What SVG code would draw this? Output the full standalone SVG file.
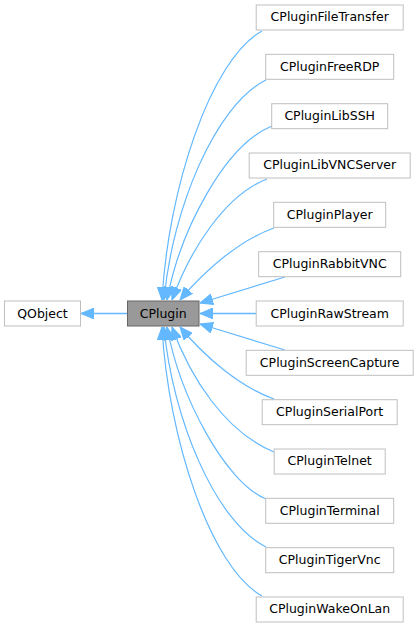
<svg xmlns="http://www.w3.org/2000/svg" width="419" height="628" viewBox="0 0 419 628">
<style>
.n rect{fill:#ffffff;stroke:#bfbfbf;stroke-width:1}
.cur rect{fill:#999999;stroke:#666666;stroke-width:1}
text{font-family:"DejaVu Sans",sans-serif;font-size:12.5px;fill:#000000;text-anchor:middle}
.e path{fill:none;stroke:#63b8ff;stroke-width:1.2;marker-end:url(#ah)}
.e path.h{stroke-width:1.6}
</style>
<defs>
<marker id="ah" markerUnits="userSpaceOnUse" markerWidth="13" markerHeight="11" refX="13" refY="5.5" orient="auto" viewBox="0 0 13 11">
<path d="M0,0 L13,5.5 L0,11 z" fill="#63b8ff" stroke="#63b8ff" stroke-width="1"/>
</marker>
</defs>
<g id="edges" class="e">
<path class="h" d="M127,313.5 L81,313.5"/>
<path d="M262,31 C210,60 168,190 162,300"/>
<path d="M266,80 C215,105 172,210 164,300"/>
<path d="M272,126 C225,145 180,230 167,300"/>
<path d="M267,179 C225,195 190,250 172,300"/>
<path d="M274,228 C240,240 205,270 180,300"/>
<path d="M285,277 L200,303"/>
<path class="h" d="M256,313.5 L200,313.5"/>
<path d="M285,350 L200,324"/>
<path d="M274,399 C240,387 205,357 180,327"/>
<path d="M274,452 C225,432 190,377 172,327"/>
<path d="M266,499 C225,482 180,397 167,327"/>
<path d="M266,547 C215,522 172,417 164,327"/>
<path d="M262,596 C210,567 168,437 162,327"/>
</g>
<g id="QObject" class="n"><rect x="4.5" y="301" width="76" height="25"/><text x="42.5" y="317.5">QObject</text></g>
<g id="CPlugin" class="cur"><rect x="127.5" y="301" width="71.5" height="25"/><text x="163.2" y="317.5">CPlugin</text></g>
<g id="CPluginFileTransfer" class="n"><rect x="256.2" y="5" width="147" height="25"/><text x="329.7" y="21.3">CPluginFileTransfer</text></g>
<g id="CPluginFreeRDP" class="n"><rect x="265.7" y="54.3" width="128" height="25"/><text x="329.7" y="70.6">CPluginFreeRDP</text></g>
<g id="CPluginLibSSH" class="n"><rect x="271.7" y="103.7" width="116" height="25"/><text x="329.7" y="120">CPluginLibSSH</text></g>
<g id="CPluginLibVNCServer" class="n"><rect x="249.2" y="153" width="161" height="25"/><text x="329.7" y="169.3">CPluginLibVNCServer</text></g>
<g id="CPluginPlayer" class="n"><rect x="273.7" y="202.3" width="112" height="25"/><text x="329.7" y="218.6">CPluginPlayer</text></g>
<g id="CPluginRabbitVNC" class="n"><rect x="258.7" y="251.7" width="142" height="25"/><text x="329.7" y="268">CPluginRabbitVNC</text></g>
<g id="CPluginRawStream" class="n"><rect x="256.2" y="301" width="147" height="25"/><text x="329.7" y="317.5">CPluginRawStream</text></g>
<g id="CPluginScreenCapture" class="n"><rect x="246.2" y="350.3" width="167" height="25"/><text x="329.7" y="366.6">CPluginScreenCapture</text></g>
<g id="CPluginSerialPort" class="n"><rect x="262.2" y="399.7" width="135" height="25"/><text x="329.7" y="416">CPluginSerialPort</text></g>
<g id="CPluginTelnet" class="n"><rect x="274.2" y="449" width="111" height="25"/><text x="329.7" y="465.3">CPluginTelnet</text></g>
<g id="CPluginTerminal" class="n"><rect x="265.7" y="498.3" width="128" height="25"/><text x="329.7" y="514.6">CPluginTerminal</text></g>
<g id="CPluginTigerVnc" class="n"><rect x="265.7" y="547.7" width="128" height="25"/><text x="329.7" y="564">CPluginTigerVnc</text></g>
<g id="CPluginWakeOnLan" class="n"><rect x="256.2" y="597" width="147" height="25"/><text x="329.7" y="613.3">CPluginWakeOnLan</text></g>
</svg>
